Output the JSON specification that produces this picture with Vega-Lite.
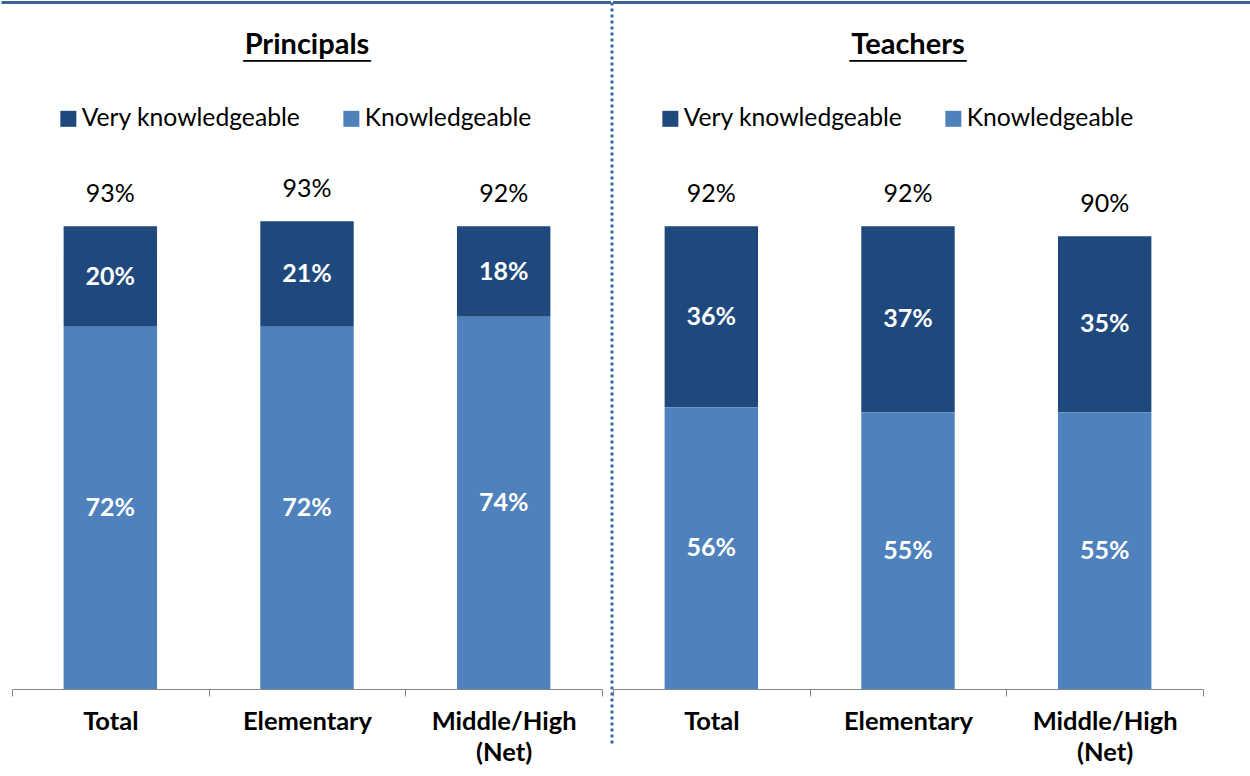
{
  "$schema": "https://vega.github.io/schema/vega-lite/v6.json",
  "padding": {"left": 0, "top": 0, "right": 0, "bottom": 0},
  "background": "white",
  "config": {
    "font": "Lato",
    "view": {"stroke": null},
    "title": {"fontSize": 29, "fontWeight": "bold", "color": "#000000", "anchor": "middle", "frame": "group",
      "subtitleFont": "DejaVu Sans Mono", "subtitleColor": "#000000", "subtitleFontWeight": "bold", "subtitlePadding": -9}
  },
  "datasets": {
    "d": [
      {"group": "Principals", "cat": "Total", "type": "Very knowledgeable", "value": 20, "net": 93},
      {"group": "Principals", "cat": "Total", "type": "Knowledgeable", "value": 72, "net": 93},
      {"group": "Principals", "cat": "Elementary", "type": "Very knowledgeable", "value": 21, "net": 93},
      {"group": "Principals", "cat": "Elementary", "type": "Knowledgeable", "value": 72, "net": 93},
      {"group": "Principals", "cat": "Middle/High (Net)", "type": "Very knowledgeable", "value": 18, "net": 92},
      {"group": "Principals", "cat": "Middle/High (Net)", "type": "Knowledgeable", "value": 74, "net": 92},
      {"group": "Teachers", "cat": "Total", "type": "Very knowledgeable", "value": 36, "net": 92},
      {"group": "Teachers", "cat": "Total", "type": "Knowledgeable", "value": 56, "net": 92},
      {"group": "Teachers", "cat": "Elementary", "type": "Very knowledgeable", "value": 37, "net": 92},
      {"group": "Teachers", "cat": "Elementary", "type": "Knowledgeable", "value": 55, "net": 92},
      {"group": "Teachers", "cat": "Middle/High (Net)", "type": "Very knowledgeable", "value": 35, "net": 90},
      {"group": "Teachers", "cat": "Middle/High (Net)", "type": "Knowledgeable", "value": 55, "net": 90}
    ]
  },
  "spacing": -4,
  "resolve": {"scale": {"color": "independent"}, "legend": {"color": "independent"}},
  "hconcat": [
    {
      "title": {"text": "Principals", "subtitle": "──────────", "subtitleFontSize": 21.2, "offset": -71.5},
      "width": 590,
      "height": 503,
      "data": {"name": "d"},
      "transform": [
        {"filter": "datum.group == 'Principals'"},
        {"stack": "value", "groupby": ["cat"], "sort": [{"field": "type", "order": "ascending"}], "as": ["v0", "v1"]},
        {"calculate": "(datum.v0 + datum.v1) / 2", "as": "mid"},
        {"calculate": "datum.value + '%'", "as": "lab"},
        {"calculate": "datum.net + '%'", "as": "netlab"}
      ],
      "layer": [
        {
          "mark": {"type": "bar", "width": {"band": 0.475}},
          "encoding": {
            "x": {"field": "cat", "type": "nominal", "sort": ["Total", "Elementary", "Middle/High (Net)"],
              "scale": {"paddingInner": 0, "paddingOuter": 0},
              "axis": {"title": null, "tickBand": "extent", "domainColor": "#868686", "tickColor": "#868686", "tickSize": 7, "labelAngle": 0, "labelFontSize": 25.5, "labelFontWeight": "bold", "labelColor": "#000000", "labelPadding": 13, "labelLineHeight": 31, "labelBaseline": "top",
                "labelExpr": "datum.value == 'Middle/High (Net)' ? ['Middle/High', '(Net)'] : datum.value"}},
            "y": {"field": "v1", "type": "quantitative", "scale": {"domain": [0, 100], "nice": false, "zero": true}, "axis": null},
            "y2": {"field": "v0"},
            "color": {"field": "type", "type": "nominal",
              "scale": {"domain": ["Very knowledgeable", "Knowledgeable"], "range": ["#1f497d", "#4f81bd"]},
              "legend": {"title": null, "orient": "none", "legendX": 44, "legendY": -80, "direction": "horizontal", "symbolType": "square", "symbolSize": 256, "symbolStrokeWidth": 0, "labelFontSize": 24.7, "labelColor": "#000000", "labelOffset": 1, "columnPadding": 38, "labelLimit": 400, "padding": 0}}
          }
        },
        {
          "mark": {"type": "text", "color": "white", "fontWeight": "bold", "fontSize": 25, "baseline": "middle"},
          "encoding": {
            "x": {"field": "cat", "type": "nominal", "sort": ["Total", "Elementary", "Middle/High (Net)"]},
            "y": {"field": "mid", "type": "quantitative"},
            "text": {"field": "lab"}
          }
        },
        {
          "transform": [{"filter": "datum.type == 'Very knowledgeable'"}],
          "mark": {"type": "text", "color": "black", "fontSize": 25, "baseline": "alphabetic", "dy": -24},
          "encoding": {
            "x": {"field": "cat", "type": "nominal", "sort": ["Total", "Elementary", "Middle/High (Net)"]},
            "y": {"field": "v1", "type": "quantitative"},
            "text": {"field": "netlab"}
          }
        },
        {
          "data": {"values": [{}]},
          "mark": {"type": "rule", "color": "#3a6496", "strokeWidth": 3, "xOffset": -10.5, "x2Offset": 9},
          "encoding": {
            "x": {"datum": "Total", "type": "nominal", "bandPosition": 0},
            "x2": {"datum": "Middle/High (Net)", "bandPosition": 1},
            "y": {"datum": 136.5, "type": "quantitative"}
          }
        }
      ]
    },
    {
      "title": {"text": "Teachers", "subtitle": "─────────", "subtitleFontSize": 21.6, "offset": -71.5},
      "width": 590,
      "height": 503,
      "data": {"name": "d"},
      "transform": [
        {"filter": "datum.group == 'Teachers'"},
        {"stack": "value", "groupby": ["cat"], "sort": [{"field": "type", "order": "ascending"}], "as": ["v0", "v1"]},
        {"calculate": "(datum.v0 + datum.v1) / 2", "as": "mid"},
        {"calculate": "datum.value + '%'", "as": "lab"},
        {"calculate": "datum.net + '%'", "as": "netlab"}
      ],
      "layer": [
        {
          "mark": {"type": "bar", "width": {"band": 0.475}},
          "encoding": {
            "x": {"field": "cat", "type": "nominal", "sort": ["Total", "Elementary", "Middle/High (Net)"],
              "scale": {"paddingInner": 0, "paddingOuter": 0},
              "axis": {"title": null, "tickBand": "extent", "domainColor": "#868686", "tickColor": "#868686", "tickSize": 7, "labelAngle": 0, "labelFontSize": 25.5, "labelFontWeight": "bold", "labelColor": "#000000", "labelPadding": 13, "labelLineHeight": 31, "labelBaseline": "top",
                "labelExpr": "datum.value == 'Middle/High (Net)' ? ['Middle/High', '(Net)'] : datum.value"}},
            "y": {"field": "v1", "type": "quantitative", "scale": {"domain": [0, 100], "nice": false, "zero": true}, "axis": null},
            "y2": {"field": "v0"},
            "color": {"field": "type", "type": "nominal",
              "scale": {"domain": ["Very knowledgeable", "Knowledgeable"], "range": ["#1f497d", "#4f81bd"]},
              "legend": {"title": null, "orient": "none", "legendX": 45, "legendY": -80, "direction": "horizontal", "symbolType": "square", "symbolSize": 256, "symbolStrokeWidth": 0, "labelFontSize": 24.7, "labelColor": "#000000", "labelOffset": 1, "columnPadding": 38, "labelLimit": 400, "padding": 0}}
          }
        },
        {
          "mark": {"type": "text", "color": "white", "fontWeight": "bold", "fontSize": 25, "baseline": "middle"},
          "encoding": {
            "x": {"field": "cat", "type": "nominal", "sort": ["Total", "Elementary", "Middle/High (Net)"]},
            "y": {"field": "mid", "type": "quantitative"},
            "text": {"field": "lab"}
          }
        },
        {
          "transform": [{"filter": "datum.type == 'Very knowledgeable'"}],
          "mark": {"type": "text", "color": "black", "fontSize": 25, "baseline": "alphabetic", "dy": -24},
          "encoding": {
            "x": {"field": "cat", "type": "nominal", "sort": ["Total", "Elementary", "Middle/High (Net)"]},
            "y": {"field": "v1", "type": "quantitative"},
            "text": {"field": "netlab"}
          }
        },
        {
          "data": {"values": [{}]},
          "mark": {"type": "rule", "color": "#3a6496", "strokeWidth": 3, "x2Offset": 47},
          "encoding": {
            "x": {"datum": "Total", "type": "nominal", "bandPosition": 0},
            "x2": {"datum": "Middle/High (Net)", "bandPosition": 1},
            "y": {"datum": 136.5, "type": "quantitative"}
          }
        },
        {
          "data": {"values": [{}]},
          "mark": {"type": "rule", "color": "#3d68a6", "strokeWidth": 3, "strokeDash": [3, 3], "xOffset": -1},
          "encoding": {
            "x": {"datum": "Total", "type": "nominal", "bandPosition": 0},
            "y": {"datum": 136.5, "type": "quantitative"},
            "y2": {"datum": -11.3}
          }
        }
      ]
    }
  ]
}
